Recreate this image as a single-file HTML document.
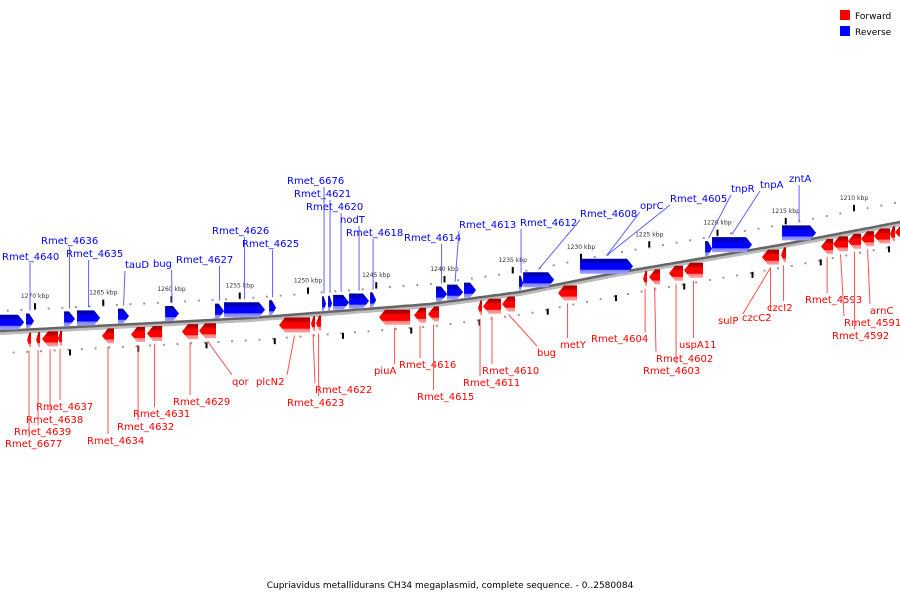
<!DOCTYPE html>
<html><head><meta charset="utf-8"><style>
html,body{margin:0;padding:0;background:#fff;}
svg{display:block;font-family:"DejaVu Sans","Liberation Sans",sans-serif;}
</style></head><body>
<svg id="chart" width="900" height="600" viewBox="0 0 900 600" xmlns="http://www.w3.org/2000/svg">
<defs>
<linearGradient id="gBlue" x1="0" y1="0" x2="0" y2="1">
<stop offset="0" stop-color="#00009a"/><stop offset="0.28" stop-color="#0000c8"/><stop offset="0.32" stop-color="#0000ff"/><stop offset="0.72" stop-color="#0000ff"/><stop offset="0.76" stop-color="#8080ff"/><stop offset="1" stop-color="#a0a0ff"/>
</linearGradient>
<linearGradient id="gRed" x1="0" y1="0" x2="0" y2="1">
<stop offset="0" stop-color="#a00000"/><stop offset="0.28" stop-color="#c80000"/><stop offset="0.32" stop-color="#ff0000"/><stop offset="0.72" stop-color="#ff0000"/><stop offset="0.76" stop-color="#ff8080"/><stop offset="1" stop-color="#ffa0a0"/>
</linearGradient>
</defs>
<g id="bg"></g>
<g id="genes"></g>
<g id="labels"></g>
<g>
<rect x="840" y="10" width="10" height="10" fill="#ff0000"/>
<text x="855" y="19" font-size="9" fill="#000">Forward</text>
<rect x="840" y="26" width="10" height="10" fill="#0000ff"/>
<text x="855" y="35" font-size="9" fill="#000">Reverse</text>
</g>
<text x="450" y="588" font-size="9" text-anchor="middle" fill="#000">Cupriavidus metallidurans CH34 megaplasmid, complete sequence. - 0..2580084</text>
</svg>
<script>
// ---- data (kbp) ----
const tickKbp = [1270,1265,1260,1255,1250,1245,1240,1235,1230,1225,1220,1215,1210];
const blueStart = [1273.5,1270.66,1267.87,1266.92,1263.92,1260.47,1256.81,1256.15,1252.85,1248.97,1248.53,1248.16,1246.99,1245.45,1240.62,1239.81,1238.57,1234.54,1234.24,1230.07,1220.91,1220.40,1215.27];
const blueEnd   = [1270.80,1270.07,1267.07,1265.23,1263.11,1259.45,1256.15,1253.15,1252.34,1248.68,1248.24,1246.99,1245.53,1245.01,1239.81,1238.64,1237.69,1234.24,1231.97,1226.19,1220.40,1217.47,1212.78];
const redStart = [1270.58,1269.92,1269.48,1268.31,1265.09,1262.96,1261.79,1259.23,1257.98,1252.12,1249.78,1249.41,1244.79,1242.23,1241.20,1237.54,1237.18,1235.78,1231.68,1225.45,1225.01,1223.55,1222.45,1216.74,1215.34,1212.41,1211.53,1210.44,1209.48,1208.53,1207.36,1206.99];
const redEnd   = [1270.29,1269.63,1268.31,1268.02,1264.21,1261.94,1260.69,1258.05,1256.74,1249.85,1249.48,1249.04,1242.52,1241.35,1240.40,1237.25,1235.86,1234.83,1230.29,1225.16,1224.21,1222.52,1221.06,1215.49,1214.98,1211.53,1210.44,1209.48,1208.53,1207.36,1206.99,1206.0];
const blueNames = ["Rmet_4640","Rmet_4636","Rmet_4635","tauD","bug","Rmet_4627","Rmet_4626","Rmet_4625","Rmet_6676","Rmet_4621","Rmet_4620","nodT","Rmet_4618","Rmet_4614","Rmet_4613","Rmet_4612","Rmet_4608","oprC","Rmet_4605","tnpR","tnpA","zntA"];
const blueGeneIdx = [1,2,3,4,5,6,7,8,9,10,11,12,13,14,15,17,18,19,19,20,21,22];
const redNames = ["Rmet_4637","Rmet_4638","Rmet_4639","Rmet_6677","Rmet_4634","Rmet_4632","Rmet_4631","Rmet_4629","qor","plcN2","Rmet_4622","Rmet_4623","piuA","Rmet_4616","Rmet_4615","Rmet_4611","Rmet_4610","bug","metY","Rmet_4604","Rmet_4602","Rmet_4603","uspA11","sulP","czcC2","czcI2","Rmet_4593","Rmet_4591","Rmet_4592","arnC"];
const redGeneIdx = [3,2,1,0,4,5,6,7,8,9,10,11,12,13,14,15,16,17,18,19,20,21,22,23,23,24,25,26,27,28];
// label anchor layout (pixels)
const blueLabelX=[2,41,66,125,153,176,212,242,287,294,306,340,346,404,459,520,580,640,670,731,760,789];
const blueLabelY=[260,244,257,268,267,263,234,247,184,197,210,223,236,241,228,226,217,209,202,192,188,182];
const redLabelX=[36,26,14,5,87,117,133,173,232,256,315,287,374,399,417,463,482,537,560,591,656,643,679,718,742,767,805,844,832,870];
const redLabelY=[410,423,435,447,444,430,417,405,385,385,393,406,374,368,400,386,374,356,348,342,362,374,348,324,321,311,303,326,339,314];

const NS="http://www.w3.org/2000/svg";
function xs(k){return 35+(1270-k)*13.65;}
const cp=[[0,331],[250,318],[430,304],[520,292],[610,274],[780,245],[900,222]];
function ly(x){
  if(x<=cp[0][0]) return cp[0][1]+(cp[1][1]-cp[0][1])/(cp[1][0]-cp[0][0])*(x-cp[0][0]);
  for(let i=0;i<cp.length-1;i++){const a=cp[i],b=cp[i+1];if(x<=b[0])return a[1]+(b[1]-a[1])*(x-a[0])/(b[0]-a[0]);}
  const a=cp[cp.length-2],b=cp[cp.length-1];return b[1]+(b[1]-a[1])/(b[0]-a[0])*(x-b[0]);
}
function mk(tag,attrs,parent){const e=document.createElementNS(NS,tag);for(const k in attrs)e.setAttribute(k,attrs[k]);parent.appendChild(e);return e;}
const bg=document.getElementById('bg'),gg=document.getElementById('genes'),lg=document.getElementById('labels');

// backbone
let d="";for(let x=-5;x<=905;x+=5){d+=(x===-5?"M":"L")+x+","+ly(x).toFixed(1);}
const sh=mk('path',{d:d,fill:'none',stroke:'#bbb','stroke-width':5,transform:'translate(0,1.5)'},bg);


const bb=mk('path',{d:d,fill:'none',stroke:'#666','stroke-width':2.5},bg);



// dots
for(let k=1274;k>=1205;k-=1){const x=xs(k);if(x<0||x>900)continue;
  const a=mk('rect',{x:x-1,y:ly(x)-21,width:2,height:2,fill:'#999'},bg);
  
  
  const b=mk('rect',{x:x+5,y:ly(x)+21,width:2,height:2,fill:'#999'},bg);
  
  
}
// ticks + labels
tickKbp.forEach(k=>{const x=xs(k),y=ly(x);
  const t=mk('rect',{x:x-1,y:y-26,width:2,height:6,fill:'#000'},bg);
  
  
  const t2=mk('rect',{x:x+34,y:ly(x+34)+22,width:2,height:6,fill:'#000'},bg);
  
  
  const tx=mk('text',{x:x,y:y-31,'font-size':6,'text-anchor':'middle',fill:'#333'},bg);
  tx.textContent=k+" kbp";
  
  
});

const H=15,TIP=6;
const blueBox=[],redBox=[];
blueStart.forEach((s,i)=>{const x1=xs(s),x2=xs(blueEnd[i]);const cy=ly((x1+x2)/2);const yb=cy-1,yt=yb-H;
  const tip=Math.min(TIP,(x2-x1)*0.6);
  const p=mk('polygon',{points:`${x1},${yt} ${x2-tip},${yt} ${x2},${(yt+yb)/2} ${x2-tip},${yb} ${x1},${yb}`,fill:'url(#gBlue)'},gg);
  
  
  blueBox.push([(x1+x2)/2,yt]);
});
redStart.forEach((s,i)=>{const x1=xs(s),x2=xs(redEnd[i]);const cy=ly((x1+x2)/2);const yt=cy+3,yb=yt+H;
  const tip=Math.min(TIP,(x2-x1)*0.6);
  const p=mk('polygon',{points:`${x1},${yt} ${x2},${yt} ${x2},${yb} ${x1},${yb} ${x1-0},${yb}`,fill:'url(#gRed)'},gg);
  p.setAttribute('points',`${x2},${yt} ${x1+tip},${yt} ${x1},${(yt+yb)/2} ${x1+tip},${yb} ${x2},${yb}`);
  
  
  redBox.push([(x1+x2)/2,yb]);
});

blueNames.forEach((n,i)=>{const g=blueBox[blueGeneIdx[i]];if(!g)return;
  const t=mk('text',{x:blueLabelX[i],y:blueLabelY[i],'font-size':10,fill:'#0000ff'},lg);
  t.textContent=n;
  
  
  const w=n.length*6.2;
  const lx=Math.min(Math.max(g[0],blueLabelX[i]),blueLabelX[i]+w);
  const l=mk('line',{x1:lx,y1:blueLabelY[i]+3,x2:g[0],y2:g[1]-3,stroke:'#6060ff','stroke-width':1},lg);
  
  
});
redNames.forEach((n,i)=>{const g=redBox[redGeneIdx[i]];if(!g)return;
  const t=mk('text',{x:redLabelX[i],y:redLabelY[i],'font-size':10,fill:'#ff0000'},lg);
  t.textContent=n;
  
  
  const w=n.length*6.2;
  const lx=Math.min(Math.max(g[0],redLabelX[i]),redLabelX[i]+w);
  const l=mk('line',{x1:g[0],y1:g[1]+3,x2:lx,y2:redLabelY[i]-10,stroke:'#ff5050','stroke-width':1},lg);
  
  
});
</script>
</body></html>
